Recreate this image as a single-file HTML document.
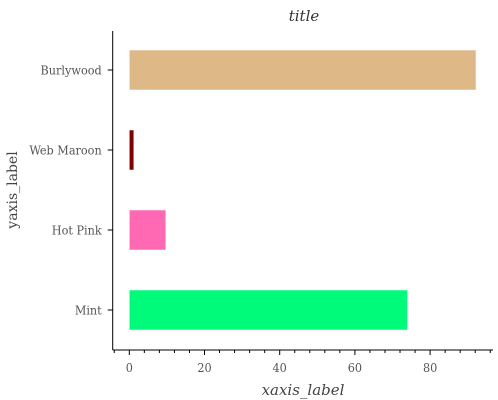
<!DOCTYPE html>
<html><head><meta charset="utf-8"><style>
body{margin:0;background:#fff}
svg{display:block;font-family:"DejaVu Serif","Liberation Serif",serif}
.tk{font-family:"DejaVu Serif Condensed","DejaVu Serif","Liberation Serif",serif}
</style></head><body>
<svg id="chart" width="498" height="400">
<text x="304" y="21" text-anchor="middle" font-size="15" font-style="italic" fill="#333">title</text>
<g id="bars"></g>
<g id="axes"></g>
<text x="303" y="395" text-anchor="middle" font-size="15" font-style="italic" fill="#444">xaxis_label</text>
<text transform="translate(17,190) rotate(-90)" text-anchor="middle" font-size="14" fill="#444">yaxis_label</text>
</svg>
<script>
const categories=["Mint","Hot Pink","Web Maroon","Burlywood"];
const values=[74.0,9.7,1.2,92.2];
const colors=["#00fa7a","#ff69b4","#800000","#deb887"];
const xTicks=[0,20,40,60,80];
const NS="http://www.w3.org/2000/svg";
const x0=129.3,pxPer=3.76,axisLeft=112.7,axisBottom=350,plotTop=31;
const xs=v=>x0+v*pxPer;
const yc=i=>310-i*80;
function mk(t,a,p){const e=document.createElementNS(NS,t);for(const k in a)e.setAttribute(k,a[k]);p.appendChild(e);return e;}
const bars=document.getElementById('bars'),axes=document.getElementById('axes');
categories.forEach((c,i)=>{
 const r=mk('rect',{x:xs(0),y:yc(i)-20,width:xs(values[i])-xs(0),height:40,fill:colors[i],stroke:'#fff','stroke-opacity':0.5},bars);
 
 
 mk('line',{x1:axisLeft-5,x2:axisLeft,y1:yc(i),y2:yc(i),stroke:'#000'},axes);
 const t=mk('text',{x:axisLeft-11,y:yc(i)+4.5,'text-anchor':'end','font-size':12.5,fill:'#555',class:'tk'},axes);
 t.textContent=c;
 
 
});
mk('line',{x1:axisLeft,x2:axisLeft,y1:plotTop,y2:axisBottom,stroke:'#000'},axes);
mk('line',{x1:axisLeft,x2:493,y1:axisBottom,y2:axisBottom,stroke:'#000'},axes);
for(let v=-4;v<=96;v+=4){
 const major=xTicks.includes(v);
 mk('line',{x1:xs(v),x2:xs(v),y1:axisBottom,y2:axisBottom+(major?5:3),stroke:'#000'},axes);
}
xTicks.forEach(v=>{
 const t=mk('text',{x:xs(v),y:372,'text-anchor':'middle','font-size':12.5,fill:'#555',class:'tk'},axes);
 t.textContent=v;
 
 
});
</script>
</body></html>
